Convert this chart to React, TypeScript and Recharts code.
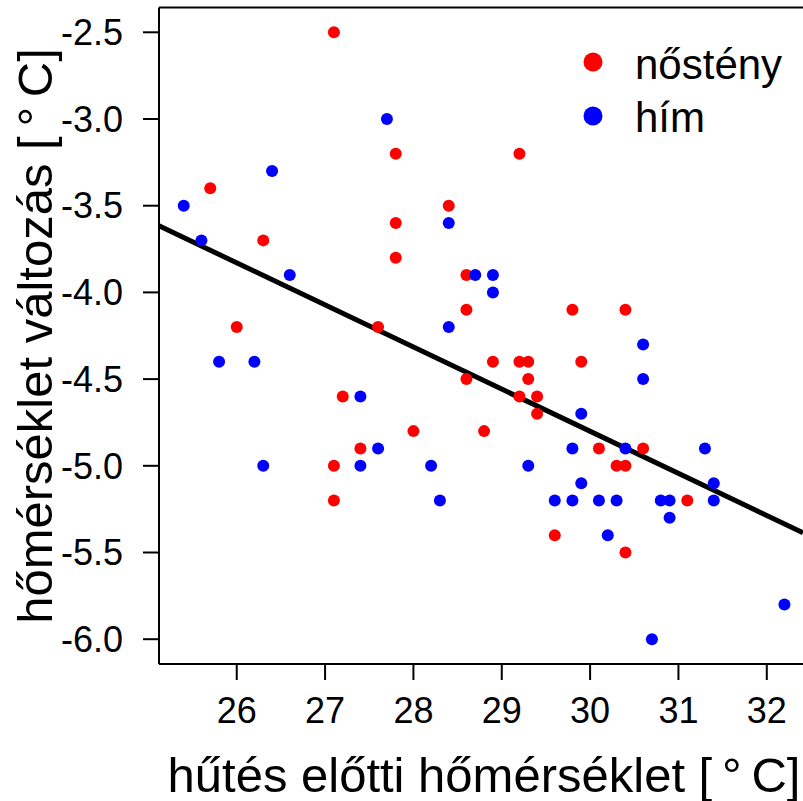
import {
  ScatterChart,
  Scatter,
  XAxis,
  YAxis,
  ReferenceLine,
  Label,
} from "recharts";

// nőstény (female) points
const femaleX = [
  27.1, 27.8, 25.7, 28.4, 27.8, 26.3, 27.8, 28.6, 28.6, 26.0, 27.6, 29.2, 29.8,
  30.4, 28.6, 27.2, 28.0, 28.8, 27.4, 27.1, 27.1, 28.9, 29.2, 29.3, 29.9, 29.3,
  29.2, 29.4, 29.4, 30.1, 30.6, 30.3, 30.4, 31.1, 29.6, 30.4,
];
const femaleY = [
  -2.5, -3.2, -3.4, -3.5, -3.6, -3.7, -3.8, -3.9, -4.1, -4.2, -4.2, -3.2, -4.1,
  -4.1, -4.5, -4.6, -4.8, -4.8, -4.9, -5.0, -5.2, -4.4, -4.4, -4.4, -4.4, -4.5,
  -4.6, -4.6, -4.7, -4.9, -4.9, -5.0, -5.0, -5.2, -5.4, -5.5,
];

// hím (male) points
const maleX = [
  27.7, 26.4, 25.4, 28.4, 25.6, 26.6, 28.7, 28.4, 28.9, 28.9, 25.8, 26.2, 27.4,
  27.6, 26.3, 27.4, 28.2, 28.3, 30.6, 30.6, 29.9, 29.8, 30.4, 31.3, 29.3, 29.9,
  31.4, 29.6, 29.8, 30.1, 30.3, 30.8, 30.9, 31.4, 30.9, 30.2, 32.2, 30.7,
];
const maleY = [
  -3.0, -3.3, -3.5, -3.6, -3.7, -3.9, -3.9, -4.2, -3.9, -4.0, -4.4, -4.4, -4.6,
  -4.9, -5.0, -5.0, -5.0, -5.2, -4.3, -4.5, -4.7, -4.9, -4.9, -4.9, -5.0, -5.1,
  -5.1, -5.2, -5.2, -5.2, -5.2, -5.2, -5.2, -5.2, -5.3, -5.4, -5.8, -6.0,
];

// fitted line end points
const fitX = [25.12, 32.41];
const fitY = [-3.616, -5.386];

const xTicks = [26, 27, 28, 29, 30, 31, 32];
const yTicks = [-6.0, -5.5, -5.0, -4.5, -4.0, -3.5, -3.0, -2.5];

const xDomain = [25.12, 32.41];
const yDomain = [-6.143, -2.357];

const female = femaleX.map((x, i) => ({ x, y: femaleY[i] }));
const male = maleX.map((x, i) => ({ x, y: maleY[i] }));

const FONT = "'Liberation Sans', Arial, Helvetica, sans-serif";

const dot = (color: string) => (props: any) =>
  <circle cx={props.cx} cy={props.cy} r={6} fill={color} />;

// legend drawn on top of the chart, like R's legend(bty = "n")
const LegendBox = () => (
  <svg
    width={230}
    height={110}
    style={{ position: "absolute", left: 570, top: 40, display: "block" }}
  >
    <circle cx={23} cy={22} r={9.5} fill="#ff0000" />
    <text x={65} y={39} fontSize={42} fontFamily={FONT} fill="#000">
      nőstény
    </text>
    <circle cx={23} cy={76} r={9.5} fill="#0000ff" />
    <text x={65} y={92} fontSize={42} fontFamily={FONT} fill="#000">
      hím
    </text>
  </svg>
);

export default function App() {
  return (
    <div style={{ position: "absolute", left: 0, top: 0, width: 803, height: 801 }}>
      <ScatterChart
        width={803}
        height={801}
        margin={{ top: 7.5, right: 0, bottom: 0, left: 0 }}
        style={{ fontFamily: FONT }}
      >
        <XAxis
          type="number"
          dataKey="x"
          domain={xDomain}
          ticks={xTicks}
          allowDataOverflow
          height={137}
          tickSize={16}
          tickMargin={17}
          stroke="#000"
          strokeWidth={2}
          tick={{ fill: "#000", fontSize: 36, fontFamily: FONT }}
        >
          <Label
            content={() => (
              <text
                x={484}
                y={792}
                textAnchor="middle"
                fontSize={49}
                fontFamily={FONT}
                fill="#000"
              >
                hűtés előtti hőmérséklet [{"\u2009"}°{"\u2009"}C]
              </text>
            )}
          />
        </XAxis>
        <YAxis
          type="number"
          dataKey="y"
          domain={yDomain}
          ticks={yTicks}
          allowDataOverflow
          width={159}
          tickSize={16}
          tickMargin={20}
          stroke="#000"
          strokeWidth={2}
          tickFormatter={(v: number) => v.toFixed(1)}
          tick={{ fill: "#000", fontSize: 36, fontFamily: FONT }}
        >
          <Label
            content={() => (
              <text
                x={52}
                y={336}
                transform="rotate(-90 52 336)"
                textAnchor="middle"
                fontSize={49}
                fontFamily={FONT}
                fill="#000"
              >
                hőmérséklet változás [{"\u2009"}°{"\u2009"}C]
              </text>
            )}
          />
        </YAxis>
        <ReferenceLine y={yDomain[1]} stroke="#000" strokeWidth={2} />
        <Scatter
          name="nőstény"
          data={female}
          fill="#ff0000"
          shape={dot("#ff0000")}
          isAnimationActive={false}
        />
        <Scatter
          name="hím"
          data={male}
          fill="#0000ff"
          shape={dot("#0000ff")}
          isAnimationActive={false}
        />
        <ReferenceLine
          segment={[
            { x: fitX[0], y: fitY[0] },
            { x: fitX[1], y: fitY[1] },
          ]}
          stroke="#000"
          strokeWidth={5}
        />
      </ScatterChart>
      <LegendBox />
    </div>
  );
}
